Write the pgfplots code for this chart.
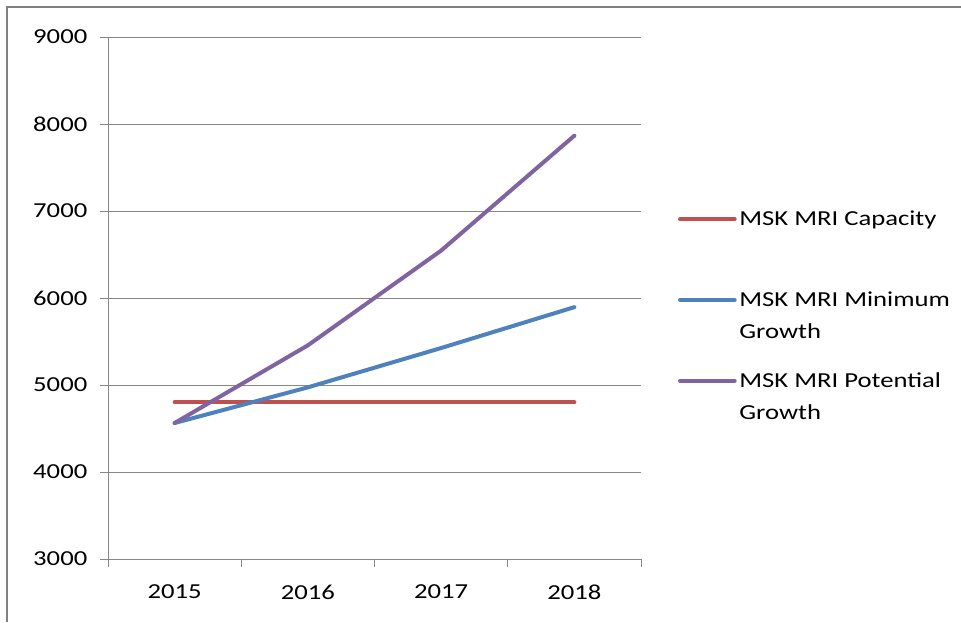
\documentclass[border=0pt]{standalone}
\usepackage{fontspec}
\setmainfont{Carlito}[FakeStretch=1.25]
\usepackage{pgfplots}
\pgfplotsset{compat=1.18}
\definecolor{cRed}{RGB}{192,80,77}
\definecolor{cBlue}{RGB}{79,129,189}
\definecolor{cPurple}{RGB}{128,100,162}
\definecolor{cGrid}{RGB}{134,134,134}
\definecolor{cFrame}{RGB}{128,128,128}
\begin{document}
\begin{tikzpicture}[x=1pt,y=1pt]
\useasboundingbox (0,0) rectangle (720.75,466.5);
\draw[cFrame, line width=1.5pt] (5.25,0) -- (5.25,461.25) -- (720.75,461.25);
\begin{axis}[
 at={(81pt,47.25pt)}, anchor=south west,
 scale only axis, width=399.75pt, height=391.5pt,
 xmin=0.5, xmax=4.5, ymin=3000, ymax=9000,
 axis x line*=bottom, axis y line*=left,
 axis line style={cGrid, line width=0.75pt, -},
 xtick={1,2,3,4}, xticklabels={2015,2016,2017,2018},
 minor xtick={0.5,1.5,2.5,3.5,4.5},
 ytick={3000,4000,5000,6000,7000,8000,9000},
 yticklabels={3000,4000,5000,6000,7000,8000,9000},
 tick align=outside, major tick length=6pt, minor tick length=6pt,
 major x tick style={draw=none},
 minor x tick style={cGrid, line width=0.75pt},
 major y tick style={cGrid, line width=0.75pt},
 ymajorgrids, major grid style={cGrid, line width=0.75pt},
 tick label style={font=\fontsize{16}{19}\selectfont, text=black},
 yticklabel style={xshift=-6pt},
 xticklabel style={yshift=-10pt},
 legend style={draw=none, fill=none, inner sep=0pt,
   at={(1.069,0.672)}, anchor=north west, row sep=44pt,
   font=\fontsize{16}{24}\selectfont, cells={anchor=base west}},
 legend image code/.code={\draw[#1, line width=3pt, line cap=round] (0pt,5pt) -- (41pt,5pt);},
 every axis plot/.append style={line width=3pt, line cap=round, line join=round, mark=none},
]
\addplot[cRed] coordinates {(1,4800) (2,4800) (3,4800) (4,4800)};
\addlegendentry{\parbox[t]{170pt}{MSK MRI Capacity}}
\addplot[cBlue] coordinates {(1,4563) (2,4973) (3,5425) (4,5895)};
\addlegendentry{\parbox[t]{170pt}{MSK MRI Minimum\\Growth}}
\addplot[cPurple] coordinates {(1,4563) (2,5456) (3,6545) (4,7866)};
\addlegendentry{\parbox[t]{170pt}{MSK MRI Potential\\Growth}}
\end{axis}
\end{tikzpicture}
\end{document}
